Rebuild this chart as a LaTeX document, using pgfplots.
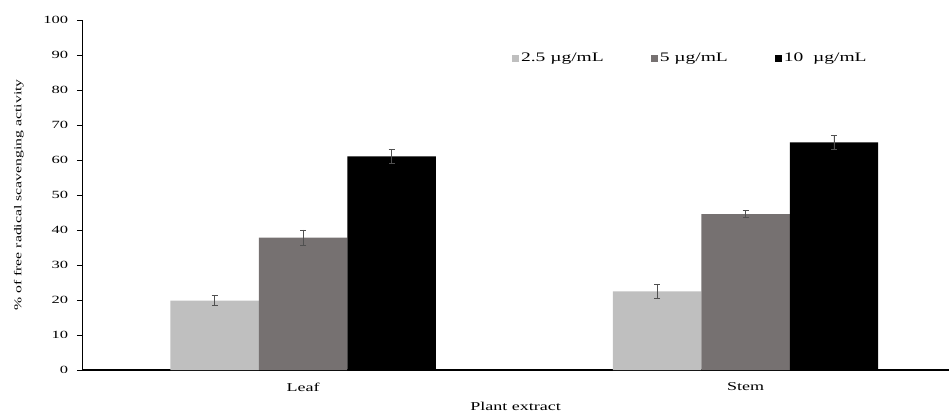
\documentclass[border=0pt]{standalone}
\usepackage{pgfplots}
\pgfplotsset{compat=1.18}
\usepackage{fontspec}
\setmainfont[FakeStretch=1.5]{Liberation Serif}
\definecolor{lg}{RGB}{191,191,191}
\definecolor{mg}{RGB}{118,113,113}
\definecolor{eb}{RGB}{80,80,80}
\begin{document}
\fontsize{11bp}{13bp}\selectfont
\begin{tikzpicture}
\useasboundingbox (-82bp,-44bp) rectangle (867bp,370bp);
\begin{axis}[
  at={(0,0)}, anchor=south west,
  scale only axis, width=867bp, height=350bp,
  ymin=0, ymax=100, ytick={0,10,...,100},
  xmin=-0.5, xmax=1.46,
  xtick={0,1}, xticklabels={Leaf,Stem},
  axis x line*=bottom, axis y line*=left,
  x axis line style={line width=1.6bp, -},
  y axis line style={line width=0.8bp, -},
  xtick style={draw=none},
  ytick style={black, line width=0.6bp},
  tick align=outside, major tick length=5bp,
  tick label style={font=\fontsize{11bp}{13bp}\selectfont},
  /pgf/number format/assume math mode=true,
  yticklabel style={xshift=-5bp},
  xticklabel style={yshift=-4bp, font=\fontsize{12bp}{14bp}\selectfont},
  ylabel={\% of free radical scavenging activity},
  xlabel={Plant extract},
  xlabel style={font=\fontsize{12bp}{14bp}\selectfont, at={(axis description cs:0.5,-0.105)}, anchor=center},
  ylabel style={font=\fontsize{10.5bp}{12bp}\selectfont, at={(axis description cs:-0.073,0.5)}, anchor=center},
  ybar, bar width=0.2,
  legend style={at={(axis cs:0.465,89)}, anchor=west, draw=none, fill=none,
    legend columns=3, font=\fontsize{13bp}{15bp}\selectfont,
    /tikz/every even column/.append style={column sep=45bp}},
  legend image code/.code={\fill[#1] (0bp,-3.5bp) rectangle (7bp,3.5bp);},
  error bars/y dir=both, error bars/y explicit,
  error bars/error bar style={eb, line width=0.7bp},
  error bars/error mark options={eb, line width=0.7bp, mark size=3bp, rotate=90},
]
\addplot[fill=lg, draw=none, bar shift=-0.2] coordinates {(0,19.8) +- (0,1.4) (1,22.5) +- (0,2.0)};
\addplot[fill=mg, draw=none, bar shift=0] coordinates {(0,37.8) +- (0,2.2) (1,44.5) +- (0,1.0)};
\addplot[fill=black, draw=none, bar shift=0.2] coordinates {(0,61.0) +- (0,2.0) (1,65.0) +- (0,2.0)};
\legend{2.5 µg/mL, 5 µg/mL, 10\ \ µg/mL}
\end{axis}
\end{tikzpicture}
\end{document}
